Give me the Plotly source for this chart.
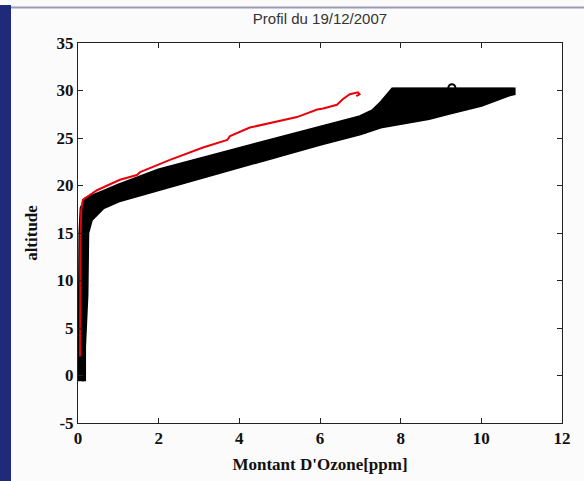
import plotly.graph_objects as go

# Black profile (thick noisy band): upper/left envelope then lower/right envelope
black_upper_x = [-0.12, -0.12, 0.04, 0.05, 0.06, 0.09, 0.2, 0.62, 1.0, 2.0, 3.0, 4.0, 5.0, 6.0, 7.0, 7.3, 7.5, 7.7, 7.8, 10.8]
black_upper_y = [-0.6, 3.0, 3.2, 8.5, 15.0, 17.6, 18.6, 19.3, 20.0, 21.6, 22.7, 23.9, 25.0, 26.0, 27.2, 27.8, 28.6, 29.6, 30.1, 30.1]
black_lower_x = [10.8, 10.7, 10.0, 9.15, 8.7, 7.5, 7.0, 6.0, 5.0, 4.0, 3.0, 2.0, 1.0, 0.62, 0.32, 0.23, 0.21, 0.15, 0.15]
black_lower_y = [29.7, 29.6, 28.5, 27.6, 27.1, 26.2, 25.5, 24.4, 23.2, 22.0, 20.9, 19.6, 18.4, 17.7, 16.4, 15.0, 8.5, 3.0, -0.6]

# Top flat line and marker of the black profile
top_x = [7.8, 10.8]
top_y = [30.2, 30.2]
circle_x = [9.27]
circle_y = [30.3]

# Red profile
red_x = [0.05, 0.05, 0.06, 0.08, 0.12, 0.47, 1.04, 1.46, 1.54, 2.28, 3.1, 3.7, 3.77, 4.26, 4.83, 5.43, 5.93, 6.08, 6.42, 6.57, 6.74, 6.94, 6.98, 6.9]
red_y = [2.0, 8.0, 14.0, 17.4, 18.5, 19.5, 20.6, 21.1, 21.4, 22.7, 24.0, 24.8, 25.2, 26.1, 26.6, 27.2, 28.0, 28.1, 28.5, 29.1, 29.6, 29.8, 29.6, 29.4]

x_ticks = [0, 2, 4, 6, 8, 10, 12]
y_ticks = [-5, 0, 5, 10, 15, 20, 25, 30, 35]

fig = go.Figure()

fig.add_trace(go.Scatter(
    x=black_upper_x + black_lower_x,
    y=black_upper_y + black_lower_y,
    mode="lines", fill="toself", fillcolor="black",
    line=dict(color="black", width=4), hoverinfo="skip", showlegend=False))
fig.add_trace(go.Scatter(x=top_x, y=top_y, mode="lines",
                         line=dict(color="black", width=1.5), showlegend=False))
fig.add_trace(go.Scatter(x=circle_x, y=circle_y, mode="markers",
                         marker=dict(symbol="circle-open", size=7, color="black", line=dict(width=2)),
                         showlegend=False))
fig.add_trace(go.Scatter(x=red_x, y=red_y, mode="lines",
                         line=dict(color="#e8000b", width=2), showlegend=False))

axis_common = dict(showline=True, linecolor="#222", linewidth=1, mirror="ticks",
                   ticks="inside", ticklen=5, tickcolor="#222", showgrid=False, zeroline=False,
                   tickfont=dict(family="Liberation Serif", size=17, color="#111", weight="bold"))

fig.update_xaxes(range=[0, 12], tickvals=x_ticks, ticktext=[str(v) for v in x_ticks],
                 title=dict(text="Montant D'Ozone[ppm]", standoff=10,
                            font=dict(family="Liberation Serif", size=17, color="#111", weight="bold")),
                 **axis_common)
fig.update_yaxes(range=[-5, 35], tickvals=y_ticks, ticktext=[str(v) for v in y_ticks],
                 title=dict(text="altitude", standoff=14,
                            font=dict(family="Liberation Serif", size=17, color="#111", weight="bold")),
                 **axis_common)

fig.update_layout(
    width=584, height=481,
    margin=dict(l=78, r=22, t=43, b=58),
    paper_bgcolor="#fbfbfb", plot_bgcolor="white",
    title=dict(text="Profil du 19/12/2007", x=(320 / 584), xanchor="center",
               y=1 - 19 / 481, yanchor="middle",
               font=dict(family="Liberation Sans", size=15, color="#333")),
    shapes=[
        dict(type="rect", xref="paper", yref="paper",
             x0=-78 / 484, x1=(11 - 78) / 484, y0=-58 / 380, y1=(481 - 5 - 58) / 380,
             fillcolor="#1f2a7a", line=dict(width=0), layer="above"),
        dict(type="line", xref="paper", yref="paper",
             x0=(11 - 78) / 484, x1=(584 - 78) / 484,
             y0=(481 - 7.5 - 58) / 380, y1=(481 - 7.5 - 58) / 380,
             line=dict(color="#9a9ab8", width=2), layer="above"),
    ],
)

fig.write_html("out.html", config={"displayModeBar": False},
               post_script="document.body.style.margin='0px';document.body.style.overflow='hidden';")
